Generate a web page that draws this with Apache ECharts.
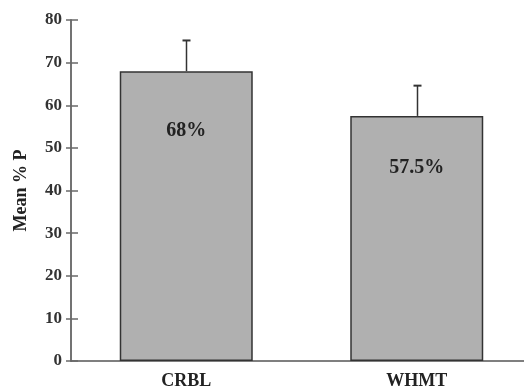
<!DOCTYPE html>
<html><head><meta charset="utf-8">
<script src="https://cdn.jsdelivr.net/npm/echarts@6/dist/echarts.min.js"></script>
<style>html,body{margin:0;padding:0;background:#fff}#c{width:524px;height:387px}</style>
</head><body><div id="c"></div>
<script>
const categories = ['CRBL', 'WHMT'];
const means = [68, 57.5];
const errorTops = [75.2, 64.6];
const barLabels = ['68%', '57.5%'];
const labelOffsets = [50, 42];
const yTicks = [0, 10, 20, 30, 40, 50, 60, 70, 80];

const font = 'Liberation Serif, Times New Roman, serif';
const chart = echarts.init(document.getElementById('c'));
const yBase = {
  type: 'value', min: yTicks[0], max: yTicks[yTicks.length - 1], interval: 10,
  splitLine: { show: false },
  axisLine: { show: true, lineStyle: { color: '#6a6a6a', width: 1.5 } }
};
chart.setOption({
  animation: false,
  grid: { left: 71, width: 461, top: 20, bottom: 26, containLabel: false, outerBoundsMode: 'none' },
  xAxis: {
    type: 'category', data: categories,
    axisLine: { lineStyle: { color: '#555', width: 1.5 } },
    axisTick: { show: false },
    axisLabel: { fontFamily: font, fontWeight: 'bold', fontSize: 18, color: '#222', margin: 11 }
  },
  yAxis: [
    Object.assign({}, yBase, {
      name: 'Mean % P', nameLocation: 'middle', nameGap: 41, nameRotate: 90,
      nameTextStyle: { fontFamily: font, fontWeight: 'bold', fontSize: 18, color: '#222' },
      axisTick: { show: true, length: 5, lineStyle: { color: '#6a6a6a', width: 1.5 } },
      axisLabel: { fontFamily: font, fontWeight: 'bold', fontSize: 17, color: '#333', margin: 9 }
    }),
    Object.assign({}, yBase, {
      position: 'left', offset: 0,
      axisTick: { show: true, inside: true, length: 7, lineStyle: { color: '#6a6a6a', width: 1.5 } },
      axisLabel: { show: false }
    })
  ],
  series: [
    {
      type: 'bar', barWidth: '57.7%',
      data: means.map((v, i) => ({
        value: v,
        label: { show: true, position: 'insideTop', distance: labelOffsets[i], formatter: barLabels[i] }
      })),
      itemStyle: { color: '#b0b0b0', borderColor: '#333', borderWidth: 1.5 },
      label: { fontFamily: font, fontWeight: 'bold', fontSize: 20, color: '#222' },
      z: 2
    },
    {
      type: 'custom',
      data: categories.map((c, i) => [i, means[i], errorTops[i]]),
      renderItem: function (params, api) {
        const low = api.coord([api.value(0), api.value(1)]);
        const high = api.coord([api.value(0), api.value(2)]);
        const x = Math.round(low[0]) + 0.5;
        return {
          type: 'group', children: [
            { type: 'line', shape: { x1: x, y1: low[1], x2: x, y2: high[1] }, style: { stroke: '#333', lineWidth: 1.5 } },
            { type: 'line', shape: { x1: x - 4, y1: high[1], x2: x + 4, y2: high[1] }, style: { stroke: '#333', lineWidth: 2 } }
          ]
        };
      },
      z: 3
    }
  ]
});
</script></body></html>
